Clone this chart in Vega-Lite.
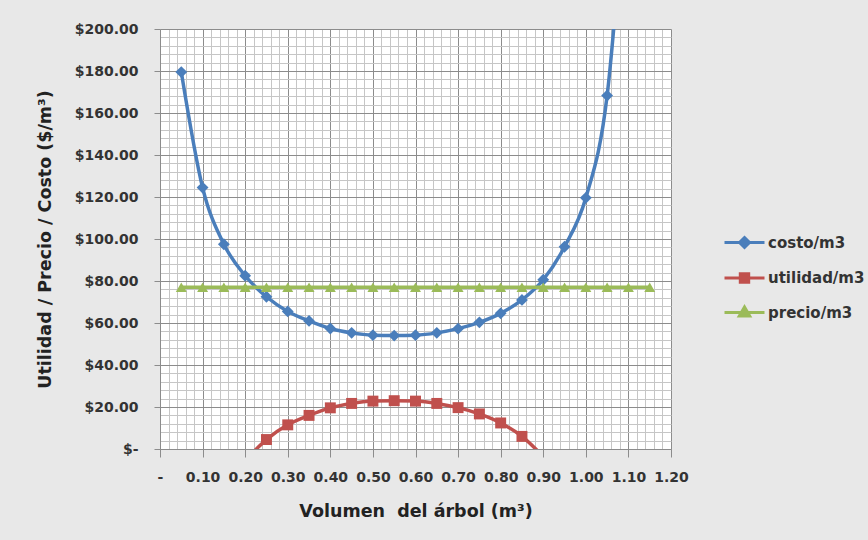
{
  "$schema": "https://vega.github.io/schema/vega-lite/v6.json",
  "width": 511,
  "height": 420,
  "autosize": "none",
  "padding": {"left": 160, "top": 29, "right": 197, "bottom": 91},
  "background": "#e8e8e8",
  "config": {
    "view": {"fill": "white", "stroke": null},
    "font": "DejaVu Sans"
  },
  "data": {
    "values": [
      {"serie": "costo/m3", "vol": 0.05, "valor": 179.5},
      {"serie": "costo/m3", "vol": 0.10, "valor": 124.5},
      {"serie": "costo/m3", "vol": 0.15, "valor": 97.5},
      {"serie": "costo/m3", "vol": 0.20, "valor": 82.5},
      {"serie": "costo/m3", "vol": 0.25, "valor": 72.5},
      {"serie": "costo/m3", "vol": 0.30, "valor": 65.5},
      {"serie": "costo/m3", "vol": 0.35, "valor": 61.0},
      {"serie": "costo/m3", "vol": 0.40, "valor": 57.4},
      {"serie": "costo/m3", "vol": 0.45, "valor": 55.3},
      {"serie": "costo/m3", "vol": 0.50, "valor": 54.2},
      {"serie": "costo/m3", "vol": 0.55, "valor": 54.0},
      {"serie": "costo/m3", "vol": 0.60, "valor": 54.2},
      {"serie": "costo/m3", "vol": 0.65, "valor": 55.3},
      {"serie": "costo/m3", "vol": 0.70, "valor": 57.3},
      {"serie": "costo/m3", "vol": 0.75, "valor": 60.3},
      {"serie": "costo/m3", "vol": 0.80, "valor": 64.6},
      {"serie": "costo/m3", "vol": 0.85, "valor": 71.0},
      {"serie": "costo/m3", "vol": 0.90, "valor": 80.6},
      {"serie": "costo/m3", "vol": 0.95, "valor": 96.3},
      {"serie": "costo/m3", "vol": 1.00, "valor": 119.6},
      {"serie": "costo/m3", "vol": 1.05, "valor": 168.3},
      {"serie": "costo/m3", "vol": 1.10, "valor": 290.0},
      {"serie": "utilidad/m3", "vol": 0.20, "valor": -5.5},
      {"serie": "utilidad/m3", "vol": 0.25, "valor": 4.5},
      {"serie": "utilidad/m3", "vol": 0.30, "valor": 11.5},
      {"serie": "utilidad/m3", "vol": 0.35, "valor": 16.0},
      {"serie": "utilidad/m3", "vol": 0.40, "valor": 19.6},
      {"serie": "utilidad/m3", "vol": 0.45, "valor": 21.7},
      {"serie": "utilidad/m3", "vol": 0.50, "valor": 22.8},
      {"serie": "utilidad/m3", "vol": 0.55, "valor": 23.0},
      {"serie": "utilidad/m3", "vol": 0.60, "valor": 22.8},
      {"serie": "utilidad/m3", "vol": 0.65, "valor": 21.7},
      {"serie": "utilidad/m3", "vol": 0.70, "valor": 19.7},
      {"serie": "utilidad/m3", "vol": 0.75, "valor": 16.7},
      {"serie": "utilidad/m3", "vol": 0.80, "valor": 12.4},
      {"serie": "utilidad/m3", "vol": 0.85, "valor": 6.0},
      {"serie": "utilidad/m3", "vol": 0.90, "valor": -3.6},
      {"serie": "precio/m3", "vol": 0.05, "valor": 77},
      {"serie": "precio/m3", "vol": 0.10, "valor": 77},
      {"serie": "precio/m3", "vol": 0.15, "valor": 77},
      {"serie": "precio/m3", "vol": 0.20, "valor": 77},
      {"serie": "precio/m3", "vol": 0.25, "valor": 77},
      {"serie": "precio/m3", "vol": 0.30, "valor": 77},
      {"serie": "precio/m3", "vol": 0.35, "valor": 77},
      {"serie": "precio/m3", "vol": 0.40, "valor": 77},
      {"serie": "precio/m3", "vol": 0.45, "valor": 77},
      {"serie": "precio/m3", "vol": 0.50, "valor": 77},
      {"serie": "precio/m3", "vol": 0.55, "valor": 77},
      {"serie": "precio/m3", "vol": 0.60, "valor": 77},
      {"serie": "precio/m3", "vol": 0.65, "valor": 77},
      {"serie": "precio/m3", "vol": 0.70, "valor": 77},
      {"serie": "precio/m3", "vol": 0.75, "valor": 77},
      {"serie": "precio/m3", "vol": 0.80, "valor": 77},
      {"serie": "precio/m3", "vol": 0.85, "valor": 77},
      {"serie": "precio/m3", "vol": 0.90, "valor": 77},
      {"serie": "precio/m3", "vol": 0.95, "valor": 77},
      {"serie": "precio/m3", "vol": 1.00, "valor": 77},
      {"serie": "precio/m3", "vol": 1.05, "valor": 77},
      {"serie": "precio/m3", "vol": 1.10, "valor": 77},
      {"serie": "precio/m3", "vol": 1.15, "valor": 77}
    ]
  },
  "encoding": {
    "x": {
      "field": "vol",
      "type": "quantitative",
      "scale": {"domain": [0, 1.2], "nice": false, "zero": false},
      "axis": {
        "title": "Volumen\u00a0 del árbol (m³)",
        "values": [0, 0.02, 0.04, 0.06, 0.08, 0.1, 0.12, 0.14, 0.16, 0.18, 0.2, 0.22, 0.24, 0.26, 0.28, 0.3, 0.32, 0.34, 0.36, 0.38, 0.4, 0.42, 0.44, 0.46, 0.48, 0.5, 0.52, 0.54, 0.56, 0.58, 0.6, 0.62, 0.64, 0.66, 0.68, 0.7, 0.72, 0.74, 0.76, 0.78, 0.8, 0.82, 0.84, 0.86, 0.88, 0.9, 0.92, 0.94, 0.96, 0.98, 1.0, 1.02, 1.04, 1.06, 1.08, 1.1, 1.12, 1.14, 1.16, 1.18, 1.2],
        "labelExpr": "abs(datum.value * 10 - round(datum.value * 10)) > 0.001 ? '' : (datum.value == 0 ? '-\u00a0' : format(datum.value, '.2f'))",
        "gridColor": {"condition": {"test": "abs(datum.value * 10 - round(datum.value * 10)) < 0.001", "value": "#8c8c8c"}, "value": "#c6c6c6"},
        "tickOpacity": {"condition": {"test": "abs(datum.value * 10 - round(datum.value * 10)) < 0.001", "value": 1}, "value": 0},
        "gridWidth": 1,
        "tickSize": 8,
        "tickColor": "#8c8c8c",
        "domainColor": "#8c8c8c",
        "labelOverlap": false,
        "labelFlush": false,
        "labelPadding": 13,
        "labelFont": "DejaVu Sans",
        "labelFontWeight": "bold",
        "labelFontSize": 14,
        "labelColor": "#333333",
        "titleFont": "DejaVu Sans",
        "titleFontWeight": "bold",
        "titleFontSize": 17.5,
        "titleColor": "#222222",
        "titlePadding": 18
      }
    },
    "y": {
      "field": "valor",
      "type": "quantitative",
      "scale": {"domain": [0, 200], "nice": false},
      "axis": {
        "title": "Utilidad / Precio / Costo ($/m³)",
        "values": [0, 4, 8, 12, 16, 20, 24, 28, 32, 36, 40, 44, 48, 52, 56, 60, 64, 68, 72, 76, 80, 84, 88, 92, 96, 100, 104, 108, 112, 116, 120, 124, 128, 132, 136, 140, 144, 148, 152, 156, 160, 164, 168, 172, 176, 180, 184, 188, 192, 196, 200],
        "labelExpr": "datum.value % 20 != 0 ? '' : (datum.value == 0 ? '$-\u00a0' : '$' + format(datum.value, '.2f'))",
        "gridColor": {"condition": {"test": "datum.value % 20 == 0", "value": "#8c8c8c"}, "value": "#c6c6c6"},
        "tickOpacity": {"condition": {"test": "datum.value % 20 == 0", "value": 1}, "value": 0},
        "gridWidth": 1,
        "tickSize": 6,
        "tickColor": "#8c8c8c",
        "domainColor": "#8c8c8c",
        "labelOverlap": false,
        "labelFlush": false,
        "labelPadding": 16,
        "labelFont": "DejaVu Sans",
        "labelFontWeight": "bold",
        "labelFontSize": 14,
        "labelColor": "#333333",
        "titleFont": "DejaVu Sans",
        "titleFontWeight": "bold",
        "titleFontSize": 17.5,
        "titleColor": "#222222",
        "titlePadding": 20
      }
    },
    "color": {
      "field": "serie",
      "type": "nominal",
      "scale": {
        "domain": ["costo/m3", "utilidad/m3", "precio/m3"],
        "range": ["#4a7ebb", "#c0504d", "#9bbb59"]
      },
      "legend": {
        "orient": "none",
        "legendX": 573,
        "legendY": 202,
        "title": null,
        "padding": 0,
        "symbolSize": 400,
        "symbolType": "M-2,0L2,0",
        "symbolStrokeWidth": 3,
        "labelOffset": 12,
        "rowPadding": 12.5,
        "labelFont": "DejaVu Sans",
        "labelFontWeight": "bold",
        "labelFontSize": 15,
        "labelColor": "#333333",
        "encode": {
          "symbols": {
            "enter": {
              "shape": {"signal": "datum.value === 'costo/m3' ? 'M-2,0L2,0M0,-0.5L0.5,0L0,0.5L-0.5,0Z' : (datum.value === 'utilidad/m3' ? 'M-2,0L2,0M-0.42,-0.42L0.42,-0.42L0.42,0.42L-0.42,0.42Z' : 'M-2,0L2,0M0,-0.55L0.52,0.35L-0.52,0.35Z')"}
            },
            "update": {
              "shape": {"signal": "datum.value === 'costo/m3' ? 'M-2,0L2,0M0,-0.5L0.5,0L0,0.5L-0.5,0Z' : (datum.value === 'utilidad/m3' ? 'M-2,0L2,0M-0.42,-0.42L0.42,-0.42L0.42,0.42L-0.42,0.42Z' : 'M-2,0L2,0M0,-0.55L0.52,0.35L-0.52,0.35Z')"},
              "fill": {"scale": "color", "field": "value"},
              "stroke": {"scale": "color", "field": "value"},
              "strokeWidth": {"value": 3},
              "opacity": {"value": 1},
              "fillOpacity": {"value": 1}
            }
          }
        }
      }
    }
  },
  "layer": [
    {
      "mark": {"type": "line", "interpolate": "monotone", "strokeWidth": 3.5, "clip": true}
    },
    {
      "transform": [{"filter": "datum.serie === 'costo/m3'"}],
      "mark": {"type": "point", "shape": "diamond", "filled": true, "opacity": 1, "size": 140, "strokeWidth": 1, "clip": true}
    },
    {
      "transform": [{"filter": "datum.serie === 'utilidad/m3'"}],
      "mark": {"type": "point", "shape": "square", "filled": true, "opacity": 1, "size": 120, "strokeWidth": 1, "clip": true}
    },
    {
      "transform": [{"filter": "datum.serie === 'precio/m3'"}],
      "mark": {"type": "point", "shape": "triangle-up", "filled": true, "opacity": 1, "size": 120, "strokeWidth": 1, "clip": true}
    }
  ]
}
